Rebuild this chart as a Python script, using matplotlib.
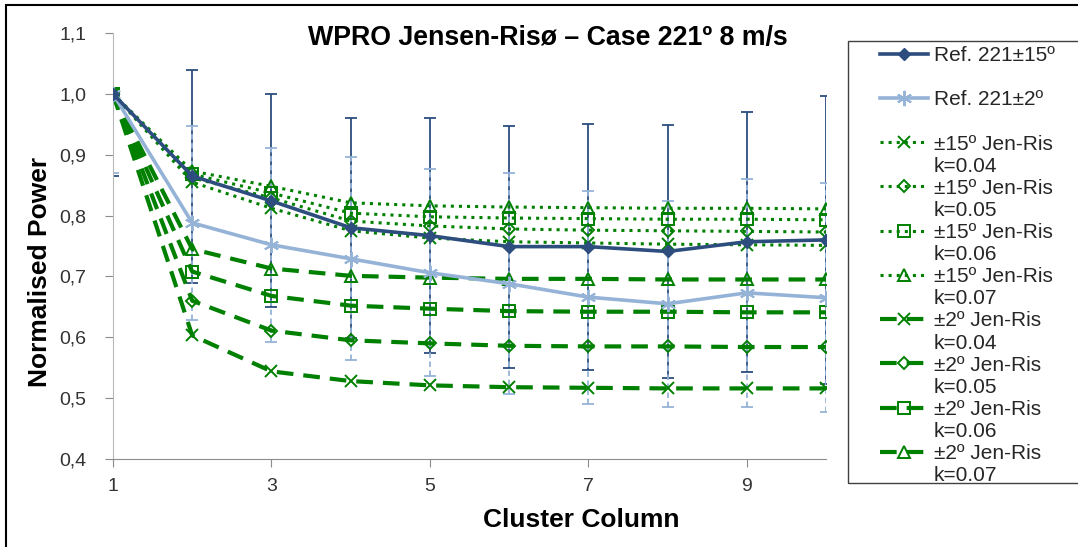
import matplotlib
matplotlib.use('Agg')
import matplotlib.pyplot as plt
from matplotlib.lines import Line2D
from matplotlib.patches import Rectangle

plt.rcParams['font.family'] = ['Liberation Sans', 'DejaVu Sans']

#%% data
cluster_col = [1, 2, 3, 4, 5, 6, 7, 8, 9, 10]

ref15 = [1.000, 0.865, 0.824, 0.780, 0.767, 0.749, 0.749, 0.741, 0.757, 0.760]
ref15_err = [0.135, 0.175, 0.175, 0.181, 0.193, 0.199, 0.202, 0.208, 0.214, 0.237]
ref2 = [1.000, 0.788, 0.752, 0.729, 0.706, 0.688, 0.666, 0.655, 0.673, 0.665]
ref2_err = [0.130, 0.160, 0.159, 0.167, 0.170, 0.182, 0.175, 0.169, 0.187, 0.188]

jr15_k04 = [1.000, 0.855, 0.812, 0.775, 0.763, 0.757, 0.755, 0.753, 0.752, 0.751]
jr15_k05 = [1.000, 0.862, 0.829, 0.791, 0.783, 0.778, 0.776, 0.775, 0.774, 0.773]
jr15_k06 = [1.000, 0.868, 0.837, 0.804, 0.798, 0.796, 0.795, 0.794, 0.794, 0.793]
jr15_k07 = [1.000, 0.873, 0.848, 0.821, 0.816, 0.814, 0.813, 0.812, 0.812, 0.811]

jr2_k04 = [1.000, 0.603, 0.544, 0.528, 0.521, 0.518, 0.517, 0.516, 0.516, 0.516]
jr2_k05 = [1.000, 0.660, 0.611, 0.595, 0.590, 0.586, 0.585, 0.585, 0.584, 0.584]
jr2_k06 = [1.000, 0.708, 0.668, 0.652, 0.647, 0.643, 0.642, 0.642, 0.641, 0.641]
jr2_k07 = [1.000, 0.745, 0.713, 0.701, 0.698, 0.696, 0.696, 0.695, 0.695, 0.695]

k_labels = ['k=0.04', 'k=0.05', 'k=0.06', 'k=0.07']
xticks = [1, 3, 5, 7, 9]
yticks = [0.4, 0.5, 0.6, 0.7, 0.8, 0.9, 1.0, 1.1]
ytick_labels = ['0,4', '0,5', '0,6', '0,7', '0,8', '0,9', '1,0', '1,1']

#%% figure
W, H = 1078, 547
fig = plt.figure(figsize=(W / 100, H / 100), dpi=100)
ax = fig.add_axes([113 / W, (H - 459) / H, (826 - 113) / W, (459 - 33) / H])

navy = '#2c4d7e'
light = '#95b3d7'
green = '#008000'

# error bars of the reference data
ax.errorbar(cluster_col, ref15, yerr=ref15_err, fmt='none', ecolor=navy,
            elinewidth=1.3, capsize=4, capthick=1.3, zorder=2)
eb = ax.errorbar(cluster_col, ref2, yerr=ref2_err, fmt='none', ecolor=light,
                 elinewidth=1.3, capsize=4, capthick=1.3, zorder=2.1)
eb[2][0].set_linestyle((0, (3, 2)))

handles = []
labels = []
blank = Line2D([], [], linestyle='none')

h, = ax.plot(cluster_col, ref15, color=navy, lw=2.6, marker='D', ms=6,
             zorder=5)
handles += [h, blank]
labels += ['Ref. 221±15º', ' ']
h, = ax.plot(cluster_col, ref2, color=light, lw=2.6, marker=(6, 2, 0), ms=11,
             mew=1.4, zorder=4)
handles += [h, blank]
labels += ['Ref. 221±2º', ' ']

markers = ['x', 'D', 's', '^']
msizes = [9, 6.5, 9, 9]
for ys, mk, ms, kl in zip([jr15_k04, jr15_k05, jr15_k06, jr15_k07], markers, msizes, k_labels):
    h, = ax.plot(cluster_col, ys, color=green, lw=2.2, ls=':', marker=mk, ms=ms,
                 mfc='none', mew=1.4, zorder=3)
    handles += [h, blank]
    labels += ['±15º Jen-Ris', kl]

for ys, mk, ms, kl in zip([jr2_k04, jr2_k05, jr2_k06, jr2_k07], markers, msizes, k_labels):
    h, = ax.plot(cluster_col, ys, color=green, lw=3, ls=(0, (4, 2.4)), marker=mk,
                 ms=ms, mfc='none', mew=1.4, zorder=3)
    handles += [h, blank]
    labels += ['±2º Jen-Ris', kl]

ax.set_xlim(1, 10)
ax.set_ylim(0.4, 1.1)
ax.set_xticks(xticks)
ax.set_yticks(yticks)
ax.set_yticklabels(ytick_labels)
ax.tick_params(axis='both', direction='out', length=6, colors='#8c8c8c',
               labelcolor='#333333', labelsize=14)
ax.tick_params(axis='y', pad=13)
ax.tick_params(axis='x', pad=8)
for s in ['top', 'right']:
    ax.spines[s].set_visible(False)
ax.spines['left'].set_color('#b8b8b8')
ax.spines['bottom'].set_color('#8c8c8c')

ax.set_title('WPRO Jensen-Risø – Case 221º 8 m/s', fontsize=19.3,
             fontweight='bold', x=(548 - 113) / 713, y=(459 - 45) / 426, pad=0)
ax.set_xlabel('Cluster Column', fontsize=19, fontweight='bold')
ax.xaxis.set_label_coords((581 - 113) / 713, (459 - 508) / 426)
ax.set_ylabel('Normalised Power', fontsize=19, fontweight='bold')
ax.yaxis.set_label_coords((52 - 113) / 713, (459 - 272) / 426)

leg = fig.legend(handles, labels, loc='upper left',
                 bbox_to_anchor=(880 / W, (H - 46) / H), frameon=False,
                 borderpad=0, borderaxespad=0, fontsize=15, labelspacing=0.15,
                 handlelength=2.3, handletextpad=0.29, numpoints=1)
for t in leg.get_texts():
    t.set_color('#262626')

# legend frame and outer chart border (image is cropped at right/bottom)
fig.add_artist(Rectangle((848 / W, (H - 483) / H), 0.3, (483 - 41) / H,
                         transform=fig.transFigure, fill=False,
                         edgecolor='#404040', lw=1))
fig.add_artist(Rectangle((6 / W, -0.1), 1.2, 0.1 + (H - 5) / H,
                         transform=fig.transFigure, fill=False,
                         edgecolor='black', lw=1.5))

fig.savefig('out.png', dpi=100)
